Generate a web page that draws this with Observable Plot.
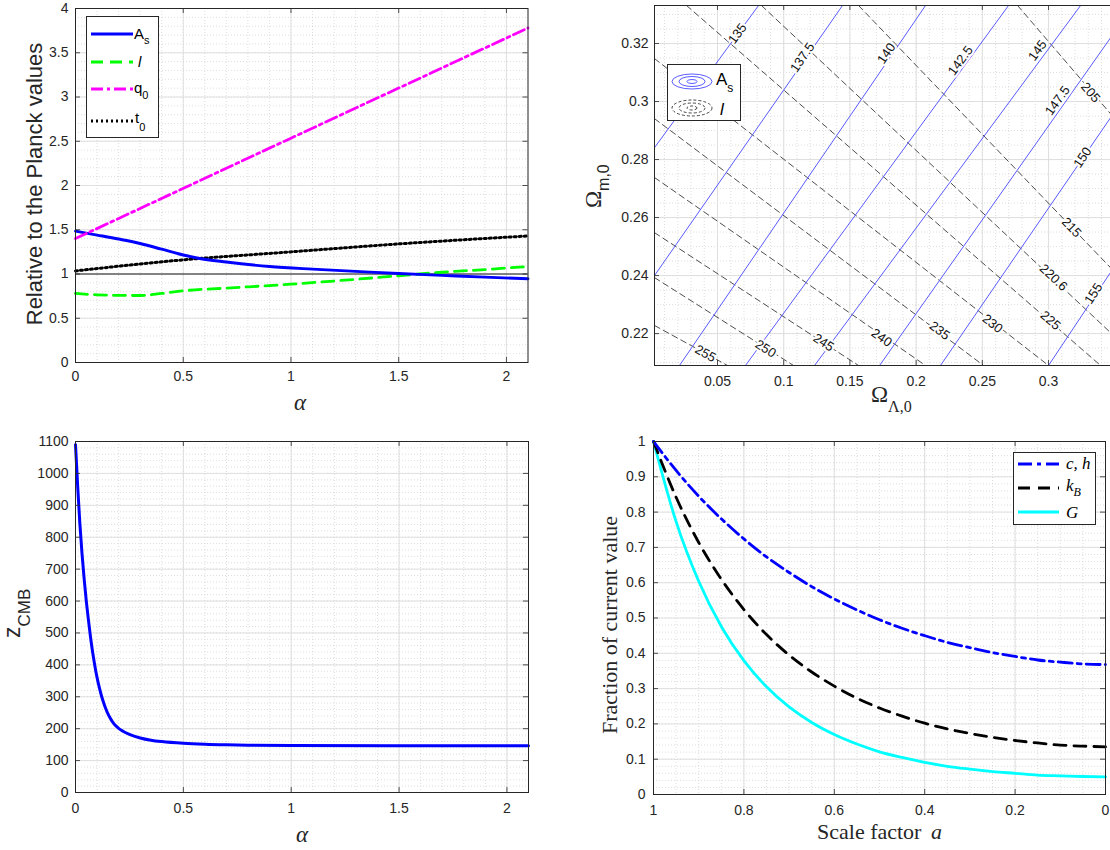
<!DOCTYPE html>
<html><head><meta charset="utf-8">
<script src="https://cdn.jsdelivr.net/npm/d3@7"></script>
<script src="https://cdn.jsdelivr.net/npm/@observablehq/plot@0.6"></script>
<style>
body{margin:0;background:#fff;}
#root{position:relative;width:1110px;height:850px;overflow:hidden;background:#fff;}
.panel{position:absolute;}
.panel svg{max-width:none !important;overflow:visible;}
.panel g[aria-label$="tick label"], .panel g[aria-label$="tick label"] text{font-size:14px;}
#overlay{position:absolute;left:0;top:0;}
</style></head><body><div id="root"></div>
<script>
// ---------- Panel 1 (top-left): relative to Planck values vs alpha ----------
const asAlpha = [0,0.1,0.2,0.3,0.4,0.5,0.57,0.7,0.9,1.1,1.3,1.5,1.7,1.9,2.1];
const asValue = [1.484,1.44,1.395,1.345,1.28,1.215,1.178,1.135,1.085,1.055,1.03,1.005,0.985,0.965,0.946];
const lAlpha = [0,0.1,0.2,0.3,0.4,0.5,0.7,1.0,1.3,1.5,1.7,1.9,2.1];
const lValue = [0.78,0.765,0.758,0.757,0.78,0.81,0.84,0.885,0.94,0.98,1.02,1.05,1.085];
const q0Alpha = [0,1,2.1];
const q0Value = [1.4,2.535,3.78];
const t0Alpha = [0,0.5,1,1.5,2.1];
const t0Value = [1.035,1.16,1.25,1.34,1.43];
const tlXTicks = [0,0.5,1,1.5,2];
const tlYTicks = [0,0.5,1,1.5,2,2.5,3,3.5,4];

// ---------- Panel 2 (top-right): contours in (Omega_L, Omega_m) ----------
const asLevels = ["135","137.5","140","142.5","145","147.5","150","155"];
const asLines = [
  [[0.00242,0.2841],[0.0810,0.3331]],
  [[0.00242,0.2400],[0.1444,0.3331]],
  [[0.0213,0.2090],[0.2071,0.3331]],
  [[0.0711,0.2090],[0.2698,0.3331]],
  [[0.1233,0.2090],[0.3242,0.3331]],
  [[0.1724,0.2090],[0.3483,0.3229]],
  [[0.2184,0.2090],[0.3483,0.2954]],
  [[0.3000,0.2090],[0.3483,0.2421]]
];
const asLabelPos = [[0.0651,0.3234],[0.1142,0.3152],[0.1776,0.3166],[0.2335,0.3141],[0.2917,0.3176],[0.3068,0.3003],[0.3257,0.2807],[0.3340,0.2338]];
const lLevels = ["255","250","245","240","235","230","225","220.6","215","205"];
const lLines = [
  [[0.00242,0.2228],[0.0576,0.2090]],
  [[0.00242,0.2393],[0.1074,0.2090]],
  [[0.00242,0.2548],[0.1565,0.2090]],
  [[0.00242,0.2738],[0.2071,0.2090]],
  [[0.00242,0.2941],[0.2509,0.2090]],
  [[0.00242,0.3148],[0.3000,0.2090]],
  [[0.0266,0.3331],[0.3393,0.2090]],
  [[0.0832,0.3331],[0.3483,0.2197]],
  [[0.1565,0.3331],[0.3483,0.2420]],
  [[0.2766,0.3331],[0.3483,0.2950]]
];
const lLabelPos = [[0.0409,0.2131],[0.0863,0.2148],[0.1301,0.2169],[0.1739,0.2186],[0.2177,0.2210],[0.2577,0.2234],[0.3015,0.2245],[0.3038,0.2393],[0.3174,0.2566],[0.3317,0.3031]];
const trXTicks = [0.05,0.1,0.15,0.2,0.25,0.3];
const trYTicks = [0.22,0.24,0.26,0.28,0.3,0.32];

// ---------- Panel 3 (bottom-left): z_CMB vs alpha ----------
const zAlpha = [0,0.01,0.02,0.03,0.04,0.05,0.06,0.07,0.08,0.09,0.1,0.11,0.12,0.13,0.14,0.15,0.16,0.17,0.18,0.19,0.2,0.22,0.25,0.3,0.35,0.4,0.5,0.6,0.7,0.8,1.0,1.5,2.1];
const zValue = [1090,960,845,750,670,600,540,485,437,396,360,330,304,282,263,247,234,223,214,207,201,192,182,171,164,159.5,154,151,149.3,148.3,147.3,146.8,146.6];
const blXTicks = [0,0.5,1,1.5,2];
const blYTicks = [0,100,200,300,400,500,600,700,800,900,1000,1100];

// ---------- Panel 4 (bottom-right): fraction of current value vs scale factor ----------
const aScale  = [1,0.95,0.9,0.85,0.8,0.75,0.7,0.65,0.6,0.55,0.5,0.45,0.4,0.35,0.3,0.25,0.2,0.15,0.1,0.05,0];
const chValue = [1,0.918,0.845,0.781,0.724,0.673,0.629,0.589,0.554,0.523,0.495,0.471,0.450,0.431,0.416,0.402,0.391,0.381,0.375,0.370,0.368];
const kbValue = [1,0.842,0.714,0.610,0.524,0.453,0.395,0.347,0.307,0.273,0.245,0.222,0.202,0.186,0.173,0.162,0.153,0.146,0.140,0.137,0.135];
const gValue  = [1,0.773,0.604,0.476,0.379,0.305,0.248,0.204,0.170,0.143,0.121,0.105,0.091,0.080,0.072,0.065,0.060,0.055,0.053,0.051,0.050];
const brXTicks = [1,0.8,0.6,0.4,0.2,0];
const brYTicks = [0,0.1,0.2,0.3,0.4,0.5,0.6,0.7,0.8,0.9,1];

// ---------- helpers ----------
const ink = "#262626";
const sans = '"Liberation Sans", Arial, Helvetica, sans-serif';
const serif = '"Liberation Serif", "Times New Roman", serif';
const fmt = d => String(d);
const rows = (xs, ys) => xs.map((x, i) => ({x, y: ys[i]}));

function build(o, dataMarks) {
  const pw = o.width - o.ml - o.mr, ph = o.height - o.mt - o.mb, t = 5;
  const under = [
    Plot.gridX(o.xminor, {stroke:"#c8c8c8", strokeOpacity:1, strokeWidth:0.6, strokeDasharray:"1,2"}),
    Plot.gridY(o.yminor, {stroke:"#c8c8c8", strokeOpacity:1, strokeWidth:0.6, strokeDasharray:"1,2"}),
    Plot.gridX(o.xticks, {stroke:"#dcdcdc", strokeOpacity:1, strokeWidth:0.9}),
    Plot.gridY(o.yticks, {stroke:"#dcdcdc", strokeOpacity:1, strokeWidth:0.9})
  ];
  const over = [
    Plot.tickX(o.xticks, {x:d=>d, insetTop: ph - t, stroke: ink, strokeWidth: 0.8}),
    Plot.tickX(o.xticks, {x:d=>d, insetBottom: ph - t, stroke: ink, strokeWidth: 0.8}),
    Plot.tickY(o.yticks, {y:d=>d, insetRight: pw - t, stroke: ink, strokeWidth: 0.8}),
    Plot.frame({stroke: ink, strokeWidth: 1})
  ];
  if (o.rightTicks !== false) over.push(Plot.tickY(o.yticks, {y:d=>d, insetLeft: pw - t, stroke: ink, strokeWidth: 0.8}));
  over.push(Plot.axisX(o.xticks, {tickSize:0, tickPadding:o.xpad, tickFormat:fmt, label:null, fontSize:14}));
  over.push(Plot.axisY(o.yticks, {tickSize:0, tickPadding:o.ypad, tickFormat:fmt, label:null, fontSize:14}));
  const svg = Plot.plot({
    width:o.width, height:o.height,
    marginLeft:o.ml, marginRight:o.mr, marginTop:o.mt, marginBottom:o.mb,
    x:{domain:o.xdomain, reverse: !!o.reverse},
    y:{domain:o.ydomain},
    style:{fontFamily:sans, fontSize:"14px", color:ink, background:"transparent"},
    marks:[...under, ...dataMarks, ...over]
  });
  const div = document.createElement("div");
  div.className = "panel";
  div.style.left = o.left + "px"; div.style.top = o.top + "px";
  div.style.width = o.width + "px"; div.style.height = o.height + "px";
  div.appendChild(svg);
  document.getElementById("root").appendChild(div);
  return {pw, ph};
}
const rng = (a, b, s) => d3.range(Math.round(a/s), Math.round(b/s) + 1).map(i => +(i*s).toFixed(4));

// ---------- Panel 1 ----------
build({left:0, top:0, width:560, height:420, ml:75, mr:32.5, mt:8, mb:58,
  xdomain:[0,2.1], ydomain:[0,4], xticks:tlXTicks, yticks:tlYTicks,
  xminor:rng(0,2.1,0.1), yminor:rng(0,4,0.1), xpad:9, ypad:7},
  [
    Plot.ruleY([1], {stroke:"#000", strokeWidth:0.9}),
    Plot.line(rows(lAlpha, lValue), {x:"x", y:"y", stroke:"#00ff00", strokeWidth:2.8, strokeDasharray:"12,7", curve:"monotone-x"}),
    Plot.line(rows(t0Alpha, t0Value), {x:"x", y:"y", stroke:"#000", strokeWidth:3, strokeDasharray:"2,3", curve:"monotone-x"}),
    Plot.line(rows(asAlpha, asValue), {x:"x", y:"y", stroke:"#0000ff", strokeWidth:2.9, curve:"monotone-x"}),
    Plot.line(rows(q0Alpha, q0Value), {x:"x", y:"y", stroke:"#ff00ff", strokeWidth:2.8, strokeDasharray:"12,4,3,4", curve:"monotone-x"})
  ]);

// ---------- Panel 2 ----------
const trX = [0.00242, 0.3483], trY = [0.2090, 0.3331];
const trW = 552, trH = 420, trML = 94, trMR = 0, trMT = 5, trMB = 55;
const kx = (trW - trML - trMR) / (trX[1] - trX[0]);
const ky = (trH - trMT - trMB) / (trY[1] - trY[0]);
const asRows = asLines.flatMap((pts, i) => pts.map(p => ({x:p[0], y:p[1], level:asLevels[i]})));
const lRows = lLines.flatMap((pts, i) => pts.map(p => ({x:p[0], y:p[1], level:lLevels[i]})));
const angleOf = pts => {
  const a = pts[0], b = pts[pts.length - 1];
  return Math.atan2(-(b[1] - a[1]) * ky, (b[0] - a[0]) * kx) * 180 / Math.PI;
};
const asLabels = asLabelPos.map((p, i) => ({x:p[0], y:p[1], text:asLevels[i], rot:angleOf(asLines[i])}));
const lLabels = lLabelPos.map((p, i) => ({x:p[0], y:p[1], text:lLevels[i], rot:angleOf(lLines[i])}));
build({left:560, top:0, width:trW, height:trH, ml:trML, mr:trMR, mt:trMT, mb:trMB,
  xdomain:trX, ydomain:trY, xticks:trXTicks, yticks:trYTicks,
  xminor:rng(0.01,0.34,0.01), yminor:rng(0.21,0.33,0.005), xpad:11, ypad:6, rightTicks:false},
  [
    Plot.line(lRows, {x:"x", y:"y", z:"level", stroke:"#3a3a3a", strokeWidth:0.9, strokeDasharray:"6,4", clip:true}),
    Plot.line(asRows, {x:"x", y:"y", z:"level", stroke:"#5a5aff", strokeWidth:1, clip:true}),
    Plot.text(lLabels, {x:"x", y:"y", text:"text", rotate:"rot", fill:"#111", stroke:"white", strokeWidth:4, fontSize:13, fontFamily:sans}),
    Plot.text(asLabels, {x:"x", y:"y", text:"text", rotate:"rot", fill:"#111", stroke:"white", strokeWidth:4, fontSize:13, fontFamily:sans})
  ]);

// ---------- Panel 3 ----------
build({left:0, top:420, width:560, height:430, ml:75, mr:32, mt:21, mb:58,
  xdomain:[0,2.1], ydomain:[0,1100], xticks:blXTicks, yticks:blYTicks,
  xminor:rng(0,2.1,0.1), yminor:rng(0,1100,20), xpad:11, ypad:7},
  [
    Plot.line(rows(zAlpha, zValue), {x:"x", y:"y", stroke:"#0000ff", strokeWidth:3, curve:"monotone-x"})
  ]);

// ---------- Panel 4 ----------
build({left:560, top:420, width:550, height:430, ml:93, mr:5, mt:21, mb:56,
  xdomain:[0,1], reverse:true, ydomain:[0,1], xticks:brXTicks, yticks:brYTicks,
  xminor:rng(0,1,0.05), yminor:rng(0,1,0.02), xpad:11, ypad:8},
  [
    Plot.line(rows(aScale, gValue), {x:"x", y:"y", stroke:"#00ffff", strokeWidth:2.8, curve:"monotone-x"}),
    Plot.line(rows(aScale, kbValue), {x:"x", y:"y", stroke:"#000", strokeWidth:2.8, strokeDasharray:"12,8", curve:"monotone-x"}),
    Plot.line(rows(aScale, chValue), {x:"x", y:"y", stroke:"#0000ff", strokeWidth:2.8, strokeDasharray:"14,5,4,5", curve:"monotone-x"})
  ]);

// ---------- Overlay: axis titles and legends ----------
const ov = `
<svg id="overlay" width="1110" height="850" xmlns="http://www.w3.org/2000/svg" font-family='${sans}'>
  <text transform="translate(42,184) rotate(-90)" text-anchor="middle" font-size="22" fill="${ink}">Relative to the Planck values</text>
  <text x="300" y="410" text-anchor="middle" font-family='${serif}' font-style="italic" font-size="23" fill="${ink}">α</text>
  <rect x="86.5" y="16.5" width="72" height="121" fill="white" stroke="${ink}" stroke-width="1"/>
  <line x1="91" x2="133" y1="34" y2="34" stroke="#0000ff" stroke-width="2.9"/>
  <text x="134" y="39" font-size="15" fill="#000">A<tspan font-size="11" dy="5">s</tspan></text>
  <line x1="91" x2="133" y1="62" y2="62" stroke="#00ff00" stroke-width="2.8" stroke-dasharray="12,7"/>
  <text x="138" y="67" font-size="15" font-style="italic" fill="#000">l</text>
  <line x1="91" x2="133" y1="89" y2="89" stroke="#ff00ff" stroke-width="2.8" stroke-dasharray="12,4,3,4"/>
  <text x="134" y="93" font-size="15" fill="#000">q<tspan font-size="11" dy="6">0</tspan></text>
  <line x1="91" x2="133" y1="121" y2="121" stroke="#000" stroke-width="3" stroke-dasharray="2,3"/>
  <text x="135" y="123" font-size="15" fill="#000">t<tspan font-size="11" dy="8">0</tspan></text>

  <g transform="translate(601,208) rotate(-90)"><text font-family='${serif}' font-size="23" fill="${ink}">Ω<tspan font-family='${sans}' font-size="16" dy="8">m,0</tspan></text></g>
  <text x="871" y="402" font-family='${serif}' font-size="23" fill="${ink}">Ω<tspan font-size="16" dy="10">Λ,0</tspan></text>
  <rect x="667.5" y="64.5" width="73" height="56" fill="white" stroke="${ink}" stroke-width="1"/>
  <ellipse cx="692" cy="81.5" rx="20" ry="7.5" fill="none" stroke="#4a4aff" stroke-width="0.9"/>
  <ellipse cx="692" cy="81.5" rx="13" ry="5" fill="none" stroke="#4a4aff" stroke-width="0.9"/>
  <ellipse cx="692" cy="81.5" rx="5" ry="2" fill="none" stroke="#4a4aff" stroke-width="0.9"/>
  <ellipse cx="692" cy="108" rx="20" ry="8" fill="none" stroke="#333" stroke-width="0.9" stroke-dasharray="3,2"/>
  <ellipse cx="692" cy="108" rx="13" ry="5" fill="none" stroke="#333" stroke-width="0.9" stroke-dasharray="3,2"/>
  <ellipse cx="692" cy="108" rx="5" ry="2" fill="none" stroke="#333" stroke-width="0.9" stroke-dasharray="3,2"/>
  <text x="716" y="85" font-size="17" fill="#000">A<tspan font-size="12" dy="7">s</tspan></text>
  <text x="720" y="115" font-size="17" font-style="italic" fill="#000">l</text>

  <g transform="translate(20,638) rotate(-90)"><text font-size="23" fill="${ink}">z<tspan font-size="17" dy="10">CMB</tspan></text></g>
  <text x="302" y="842" text-anchor="middle" font-family='${serif}' font-style="italic" font-size="23" fill="${ink}">α</text>

  <text transform="translate(617,625) rotate(-90)" text-anchor="middle" font-family='${serif}' font-size="22" fill="${ink}">Fraction of current value</text>
  <text x="817" y="839" font-family='${serif}' font-size="22" fill="${ink}">Scale factor <tspan font-style="italic" dx="4">a</tspan></text>
  <rect x="1013.5" y="452.5" width="82" height="72" fill="white" stroke="${ink}" stroke-width="1"/>
  <line x1="1018" x2="1059" y1="464" y2="464" stroke="#0000ff" stroke-width="2.8" stroke-dasharray="14,5,4,5"/>
  <text x="1066" y="469" font-family='${serif}' font-style="italic" font-size="17" fill="#000">c, h</text>
  <line x1="1018" x2="1059" y1="488" y2="488" stroke="#000" stroke-width="2.8" stroke-dasharray="12,8"/>
  <text x="1066" y="491" font-family='${serif}' font-style="italic" font-size="17" fill="#000">k<tspan font-size="12" dy="5">B</tspan></text>
  <line x1="1018" x2="1059" y1="512" y2="512" stroke="#00ffff" stroke-width="2.8"/>
  <text x="1066" y="518" font-family='${serif}' font-style="italic" font-size="17" fill="#000">G</text>
</svg>`;
document.getElementById("root").insertAdjacentHTML("beforeend", ov);
</script></body></html>
